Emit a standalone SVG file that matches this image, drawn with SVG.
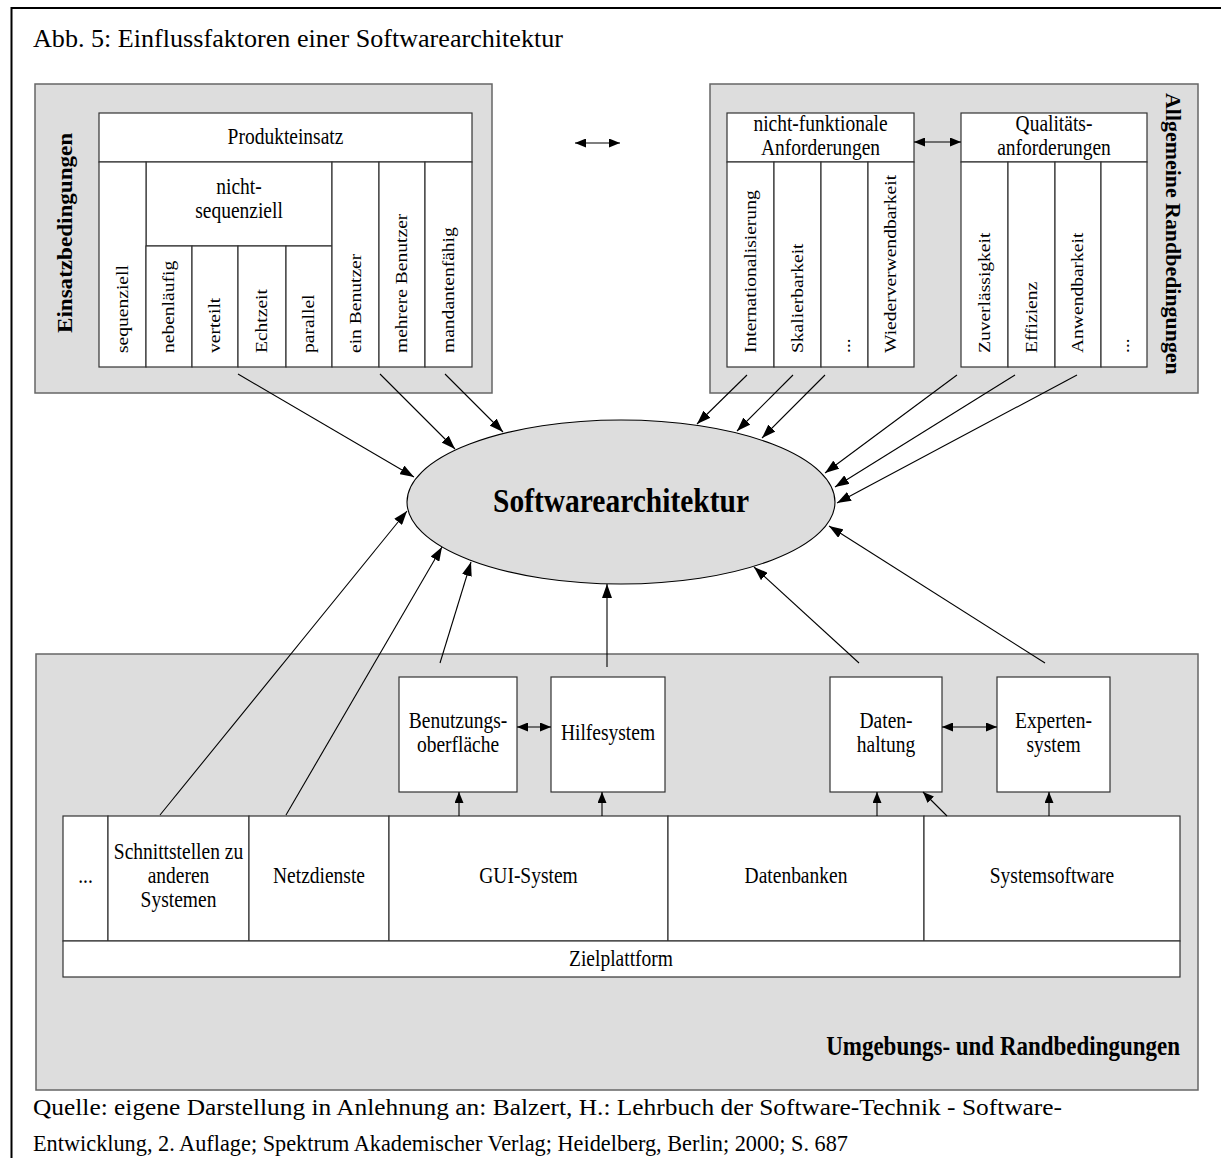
<svg xmlns="http://www.w3.org/2000/svg" width="1221" height="1158" viewBox="0 0 1221 1158">
  <style>
    .gbox{fill:#dddddd;stroke:#666666;stroke-width:1.5}
    .cell{fill:#ffffff;stroke:#333333;stroke-width:1.2}
    .t{font-family:"Liberation Serif","Times New Roman",serif;font-size:19.5px;fill:#000;text-anchor:middle}
    .v{font-family:"Liberation Serif","Times New Roman",serif;font-size:17px;fill:#000;text-anchor:start}
    .doc{font-family:"Liberation Serif","Times New Roman",serif;fill:#000}
    .b{font-weight:bold}
    .side{font-size:20px}
    .umg{font-size:23px;text-anchor:end}
    .core{font-size:29px}
    #connectors line{stroke:#000;stroke-width:1.1;fill:none}
    .big{marker-end:url(#ah)}
    .sm{marker-end:url(#as)}
    .dbl{marker-start:url(#as);marker-end:url(#as)}
  </style>
  <defs>
    <marker id="ah" viewBox="0 0 14 10" refX="14" refY="5" markerWidth="14" markerHeight="10" markerUnits="userSpaceOnUse" orient="auto-start-reverse">
      <path d="M0,0 L14,5 L0,10 z" fill="#000"/>
    </marker>
    <marker id="as" viewBox="0 0 11 9" refX="11" refY="4.5" markerWidth="11" markerHeight="9" markerUnits="userSpaceOnUse" orient="auto-start-reverse">
      <path d="M0,0 L11,4.5 L0,9 z" fill="#000"/>
    </marker>
  </defs>

  <rect width="1221" height="1158" fill="#ffffff"/>

  <!-- page frame -->
  <path d="M1221,8 H11.5 V1158" fill="none" stroke="#000" stroke-width="2"/>

  <text class="doc" x="33" y="47" font-size="25" textLength="530" lengthAdjust="spacingAndGlyphs">Abb. 5: Einflussfaktoren einer Softwarearchitektur</text>

  <!-- Einsatzbedingungen -->
  <g id="einsatzbedingungen">
    <rect class="gbox" x="35" y="84" width="457" height="309"/>
    <text class="v b side" transform="translate(72,333) scale(1,1.15) rotate(-90)" textLength="174" lengthAdjust="spacingAndGlyphs">Einsatzbedingungen</text>
    <rect class="cell" x="99" y="113" width="373" height="49"/>
    <text class="t" transform="translate(285.5,144) scale(1,1.15)">Produkteinsatz</text>
    <rect class="cell" x="146" y="162" width="186" height="84"/>
    <text class="t" transform="translate(239,194) scale(1,1.15)">nicht-</text>
    <text class="t" transform="translate(239,218) scale(1,1.15)">sequenziell</text>
    <rect class="cell" x="99" y="162" width="47" height="205"/>
    <rect class="cell" x="146" y="246" width="46" height="121"/>
    <rect class="cell" x="192" y="246" width="46" height="121"/>
    <rect class="cell" x="238" y="246" width="48" height="121"/>
    <rect class="cell" x="286" y="246" width="46" height="121"/>
    <rect class="cell" x="332" y="162" width="47" height="205"/>
    <rect class="cell" x="379" y="162" width="46" height="205"/>
    <rect class="cell" x="425" y="162" width="47" height="205"/>
    <text class="v" transform="translate(127.5,353) scale(1,1.15) rotate(-90)">sequenziell</text>
    <text class="v" transform="translate(174,353) scale(1,1.15) rotate(-90)">nebenläufig</text>
    <text class="v" transform="translate(220,353) scale(1,1.15) rotate(-90)">verteilt</text>
    <text class="v" transform="translate(267,353) scale(1,1.15) rotate(-90)">Echtzeit</text>
    <text class="v" transform="translate(314,353) scale(1,1.15) rotate(-90)">parallel</text>
    <text class="v" transform="translate(360.5,353) scale(1,1.15) rotate(-90)">ein Benutzer</text>
    <text class="v" transform="translate(407,353) scale(1,1.15) rotate(-90)">mehrere Benutzer</text>
    <text class="v" transform="translate(453.5,353) scale(1,1.15) rotate(-90)">mandantenfähig</text>
  </g>

  <!-- Allgemeine Randbedingungen -->
  <g id="randbedingungen">
    <rect class="gbox" x="710" y="84" width="488" height="309"/>
    <text class="v b side" transform="translate(1166,93) scale(1,1.15) rotate(90)" textLength="245" lengthAdjust="spacingAndGlyphs">Allgemeine Randbedingungen</text>
    <rect class="cell" x="727" y="113" width="187" height="49"/>
    <text class="t" transform="translate(820.5,131) scale(1,1.15)">nicht-funktionale</text>
    <text class="t" transform="translate(820.5,155) scale(1,1.15)">Anforderungen</text>
    <rect class="cell" x="727" y="162" width="47" height="205"/>
    <rect class="cell" x="774" y="162" width="47" height="205"/>
    <rect class="cell" x="821" y="162" width="47" height="205"/>
    <rect class="cell" x="868" y="162" width="46" height="205"/>
    <text class="v" transform="translate(755.5,353) scale(1,1.15) rotate(-90)">Internationalisierung</text>
    <text class="v" transform="translate(802.5,353) scale(1,1.15) rotate(-90)">Skalierbarkeit</text>
    <text class="v" transform="translate(849.5,353) scale(1,1.15) rotate(-90)">...</text>
    <text class="v" transform="translate(896,353) scale(1,1.15) rotate(-90)">Wiederverwendbarkeit</text>

    <rect class="cell" x="961" y="113" width="186" height="49"/>
    <text class="t" transform="translate(1054,131) scale(1,1.15)">Qualitäts-</text>
    <text class="t" transform="translate(1054,155) scale(1,1.15)">anforderungen</text>
    <rect class="cell" x="961" y="162" width="47" height="205"/>
    <rect class="cell" x="1008" y="162" width="47" height="205"/>
    <rect class="cell" x="1055" y="162" width="46" height="205"/>
    <rect class="cell" x="1101" y="162" width="46" height="205"/>
    <text class="v" transform="translate(989.5,353) scale(1,1.15) rotate(-90)">Zuverlässigkeit</text>
    <text class="v" transform="translate(1036.5,353) scale(1,1.15) rotate(-90)">Effizienz</text>
    <text class="v" transform="translate(1083,353) scale(1,1.15) rotate(-90)">Anwendbarkeit</text>
    <text class="v" transform="translate(1129,353) scale(1,1.15) rotate(-90)">...</text>
  </g>

  <!-- Umgebungs- und Randbedingungen -->
  <g id="umgebung">
    <rect class="gbox" x="36" y="654" width="1162" height="436"/>
    <text class="t b umg" transform="translate(1180,1055) scale(1,1.15)">Umgebungs- und Randbedingungen</text>
  </g>

  <g id="benutzungsoberflaeche">
    <rect class="cell" x="399" y="677" width="118" height="115"/>
    <text class="t" transform="translate(458,728) scale(1,1.15)">Benutzungs-</text>
    <text class="t" transform="translate(458,752) scale(1,1.15)">oberfläche</text>
  </g>
  <g id="hilfesystem">
    <rect class="cell" x="551" y="677" width="114" height="115"/>
    <text class="t" transform="translate(608,740) scale(1,1.15)">Hilfesystem</text>
  </g>
  <g id="datenhaltung">
    <rect class="cell" x="830" y="677" width="112" height="115"/>
    <text class="t" transform="translate(886,728) scale(1,1.15)">Daten-</text>
    <text class="t" transform="translate(886,752) scale(1,1.15)">haltung</text>
  </g>
  <g id="expertensystem">
    <rect class="cell" x="997" y="677" width="113" height="115"/>
    <text class="t" transform="translate(1053.5,728) scale(1,1.15)">Experten-</text>
    <text class="t" transform="translate(1053.5,752) scale(1,1.15)">system</text>
  </g>

  <g id="zielplattform">
    <rect class="cell" x="63" y="816" width="45" height="125"/>
    <text class="t" transform="translate(85.5,883) scale(1,1.15)">...</text>
    <rect class="cell" x="108" y="816" width="141" height="125"/>
    <text class="t" transform="translate(178.5,859) scale(1,1.15)">Schnittstellen zu</text>
    <text class="t" transform="translate(178.5,883) scale(1,1.15)">anderen</text>
    <text class="t" transform="translate(178.5,907) scale(1,1.15)">Systemen</text>
    <rect class="cell" x="249" y="816" width="140" height="125"/>
    <text class="t" transform="translate(319,883) scale(1,1.15)">Netzdienste</text>
    <rect class="cell" x="389" y="816" width="279" height="125"/>
    <text class="t" transform="translate(528.5,883) scale(1,1.15)">GUI-System</text>
    <rect class="cell" x="668" y="816" width="256" height="125"/>
    <text class="t" transform="translate(796,883) scale(1,1.15)">Datenbanken</text>
    <rect class="cell" x="924" y="816" width="256" height="125"/>
    <text class="t" transform="translate(1052,883) scale(1,1.15)">Systemsoftware</text>
    <rect class="cell" x="63" y="941" width="1117" height="36"/>
    <text class="t" transform="translate(621,966) scale(1,1.15)">Zielplattform</text>
  </g>

  <g id="softwarearchitektur">
    <ellipse cx="621" cy="502" rx="214" ry="82" fill="#dddddd" stroke="#000" stroke-width="1.1"/>
    <text class="t b core" transform="translate(621,512) scale(1,1.15)" textLength="256" lengthAdjust="spacingAndGlyphs">Softwarearchitektur</text>
  </g>

  <g id="connectors">
    <!-- Einsatzbedingungen -> Softwarearchitektur -->
    <line class="big" x1="238" y1="374" x2="414" y2="477"/>
    <line class="big" x1="380" y1="374" x2="455" y2="449"/>
    <line class="big" x1="445" y1="374" x2="503" y2="432"/>
    <!-- Randbedingungen -> Softwarearchitektur -->
    <line class="big" x1="747" y1="375" x2="697" y2="424"/>
    <line class="big" x1="793" y1="375" x2="737" y2="431"/>
    <line class="big" x1="825" y1="375" x2="762" y2="438"/>
    <line class="big" x1="957" y1="375" x2="825" y2="473"/>
    <line class="big" x1="1015" y1="375" x2="835" y2="487"/>
    <line class="big" x1="1077" y1="375" x2="837" y2="503"/>
    <!-- Umgebung -> Softwarearchitektur -->
    <line class="big" x1="160" y1="815" x2="407" y2="511"/>
    <line class="big" x1="286" y1="815" x2="442" y2="547"/>
    <line class="big" x1="440" y1="663" x2="471" y2="562"/>
    <line class="big" x1="607" y1="667" x2="607" y2="584"/>
    <line class="big" x1="859" y1="663" x2="754" y2="567"/>
    <line class="big" x1="1045" y1="663" x2="829" y2="526"/>
    <!-- double arrows -->
    <line class="dbl" x1="575" y1="143" x2="620" y2="143"/>
    <line class="dbl" x1="914" y1="142" x2="961" y2="142"/>
    <line class="dbl" x1="517" y1="727" x2="551" y2="727"/>
    <line class="dbl" x1="942" y1="727" x2="997" y2="727"/>
    <!-- platform -> components -->
    <line class="sm" x1="459" y1="816" x2="459" y2="792"/>
    <line class="sm" x1="602" y1="816" x2="602" y2="792"/>
    <line class="sm" x1="877" y1="816" x2="877" y2="792"/>
    <line class="sm" x1="1049" y1="816" x2="1049" y2="792"/>
    <line class="sm" x1="947" y1="816" x2="923" y2="792"/>
  </g>

  <text class="doc" x="33" y="1115" font-size="23.5" textLength="1029" lengthAdjust="spacingAndGlyphs">Quelle: eigene Darstellung in Anlehnung an: Balzert, H.: Lehrbuch der Software-Technik - Software-</text>
  <text class="doc" x="33" y="1151" font-size="23" textLength="815" lengthAdjust="spacingAndGlyphs">Entwicklung, 2. Auflage; Spektrum Akademischer Verlag; Heidelberg, Berlin; 2000; S. 687</text>
</svg>
